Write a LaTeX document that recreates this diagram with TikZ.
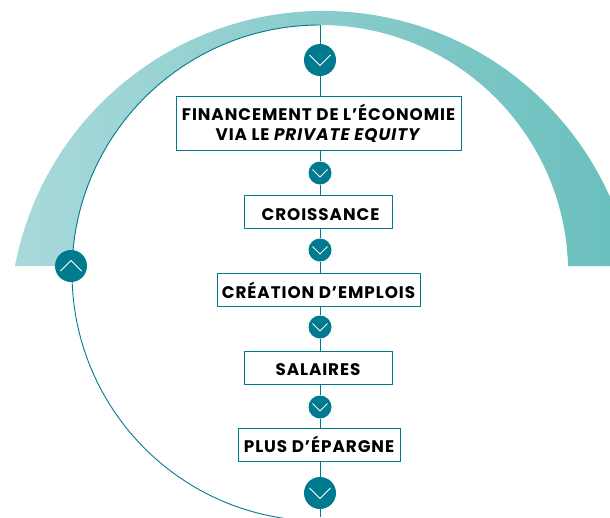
\documentclass[tikz,border=0pt]{standalone}
\usepackage{fontspec}
\setmainfont{Poppins}[LetterSpace=5.5]
\definecolor{tealdark}{HTML}{007A8F}
\definecolor{bandleft}{HTML}{A9D9DB}
\definecolor{bandright}{HTML}{69BFBD}
\tikzset{
  textbox/.style={draw=tealdark,line width=0.9pt,fill=white,inner sep=0pt,align=center,text=black,
    font=\fontsize{16.8}{20}\selectfont\bfseries,text height=16pt,text depth=0pt},
  bigdot/.style={circle,fill=tealdark,minimum size=32pt,inner sep=0pt},
  smalldot/.style={circle,fill=tealdark,minimum size=23pt,inner sep=0pt},
  link/.style={draw=tealdark,line width=0.9pt},
  chevron/.style={draw=white,line width=0.9pt}
}
\begin{document}
\begin{tikzpicture}[x=1pt,y=1pt]
\useasboundingbox (0,0) rectangle (610,-517);
\clip (0,0) rectangle (610,-517);
% band
\shade[left color=bandleft,right color=bandright]
  (15,-266) arc[start angle=169.19,end angle=10.81,radius=313.9pt]
  -- (568,-266) arc[start angle=1.62,end angle=178.38,radius=248pt] -- cycle;
% inner thin arc
\coordinate (top) at (320,-25);
\coordinate (bottom) at (320,-517);
\draw[link] (top) arc[start angle=90,end angle=262,radius=248pt];
% boxes
\node[textbox,text height=34pt,minimum width=285pt,minimum height=54pt] (b1) at (318.5,-123) {FINANCEMENT DE L’ÉCONOMIE\\VIA LE \textit{PRIVATE EQUITY}};
\node[textbox,minimum width=148pt,minimum height=33pt] (b2) at (318,-212) {\hspace*{5pt}CROISSANCE};
\node[textbox,minimum width=203pt,minimum height=33pt] (b3) at (318.5,-290) {CRÉATION D’EMPLOIS};
\node[textbox,minimum width=148pt,minimum height=33pt] (b4) at (318,-367.5) {SALAIRES};
\node[textbox,minimum width=162pt,minimum height=33pt] (b5) at (319,-444.5) {PLUS D’ÉPARGNE};
% dots
\node[bigdot] (c1) at (320,-60) {};
\node[smalldot] (c2) at (320,-173) {};
\node[smalldot] (c3) at (320,-250) {};
\node[smalldot] (c4) at (320,-327) {};
\node[smalldot] (c5) at (320,-407) {};
\node[bigdot] (c6) at (320,-493) {};
\node[bigdot] (cup) at (71,-266) {};
% connectors
\draw[link] (top) -- (c1);
\draw[link] (c1) -- (c1 |- b1.north);
\draw[link] (c2 |- b1.south) -- (c2);
\draw[link] (c2) -- (c2 |- b2.north);
\draw[link] (c3 |- b2.south) -- (c3);
\draw[link] (c3) -- (c3 |- b3.north);
\draw[link] (c4 |- b3.south) -- (c4);
\draw[link] (c4) -- (c4 |- b4.north);
\draw[link] (c5 |- b4.south) -- (c5);
\draw[link] (c5) -- (c5 |- b5.north);
\draw[link] (c6 |- b5.south) -- (c6);
\draw[link] (c6) -- (bottom);
% chevrons
\foreach \n in {c1,c6}
  \draw[chevron] ([shift={(-10.5,5)}]\n.center) -- ([shift={(0,-5.5)}]\n.center) -- ([shift={(10.5,5)}]\n.center);
\foreach \n in {c2,c3,c4,c5}
  \draw[chevron] ([shift={(-7.5,3.5)}]\n.center) -- ([shift={(0,-4)}]\n.center) -- ([shift={(7.5,3.5)}]\n.center);
\draw[chevron] ([shift={(-10.5,-5)}]cup.center) -- ([shift={(0,5.5)}]cup.center) -- ([shift={(10.5,-5)}]cup.center);
\end{tikzpicture}
\end{document}
